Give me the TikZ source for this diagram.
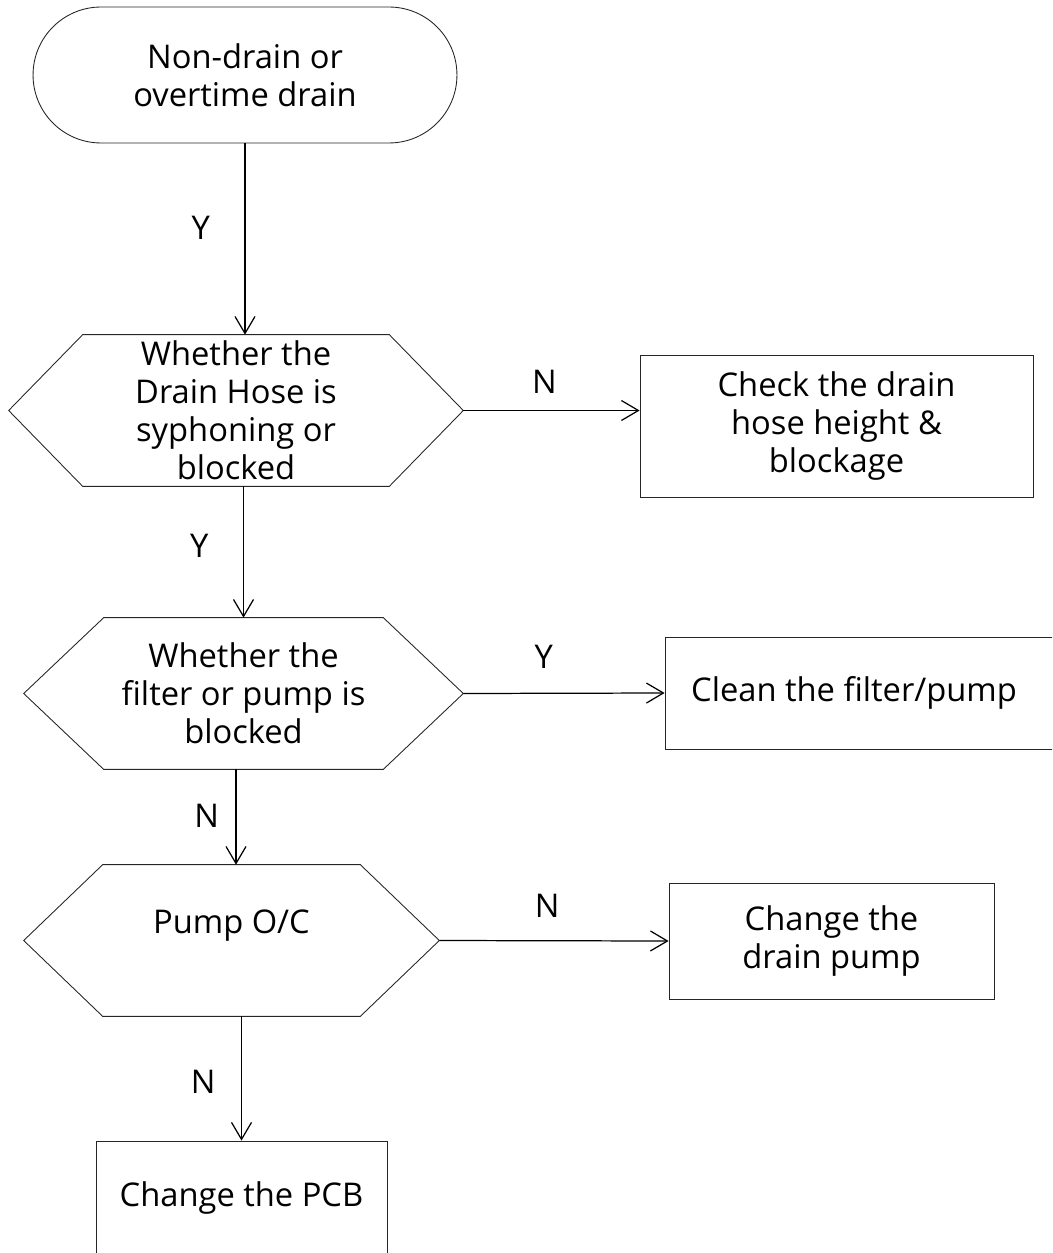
\documentclass[tikz,border=0pt]{standalone}
\usepackage{fontspec}
\setmainfont{Open Sans}
\usetikzlibrary{positioning}
\usetikzlibrary{calc}
\usetikzlibrary{arrows.meta}

\begin{document}
\begin{tikzpicture}[x=0.02cm, y=-0.02cm,
		font=\fontsize{18.6}{21.6}\selectfont,
		box/.style={draw=black!85, line width=0.5pt, align=center, inner sep=0pt},
		hexnode/.style={align=center, inner sep=0pt, minimum height=3.02cm},
		flow/.style={line width=0.7pt, -{Straight Barb[length=0.34cm, width=0.4cm]}},
		lbl/.style={inner sep=0pt}]
				\newcommand{\hexframe}[2]{\draw[black!85, line width=0.5pt] (#1.west) -- ([xshift=#2]#1.north west) -- ([xshift=-#2]#1.north east) -- (#1.east) -- ([xshift=-#2]#1.south east) -- ([xshift=#2]#1.south west) -- cycle;}
				\useasboundingbox (0, 0) rectangle (1052, 1253);
				\clip (0, 0) rectangle (1052, 1253);
				
				\node[box, rounded corners=1.36cm, minimum width=8.48cm, minimum height=2.72cm] (start) at (245, 75) {Non-drain or\\overtime drain};
				
				\node[hexnode, minimum width=9.08cm] (syphon) at (236, 410.5) {Whether the\\Drain Hose is\\syphoning or\\blocked};
				\node[hexnode, minimum width=8.78cm] (filter) at (243.5, 693.5) {Whether the\\filter or pump is\\blocked};
				\node[hexnode, minimum width=8.3cm] (pump) at (231.5, 940.5) {\raisebox{0.76cm}{Pump O/C}};
				\hexframe{syphon}{1.48cm}
				\hexframe{filter}{1.6cm}
				\hexframe{pump}{1.58cm}
				
				\node[box, minimum width=7.86cm, minimum height=2.84cm] (hose) at (836.5, 426) {Check the drain\\hose height \&\\blockage};
				\node[box, minimum width=8cm, minimum height=2.24cm] (clean) at (865, 693) {Clean the filter/pump\hspace*{0.44cm}};
				\node[box, minimum width=6.5cm, minimum height=2.32cm] (change) at (831.5, 941) {Change the\\drain pump};
				\node[box, minimum width=5.82cm, minimum height=2.28cm] (pcb) at (241.5, 1198) {Change the PCB};
				
				\draw[flow] (start.south) -- (start.south |- syphon.north) node[lbl, pos=0.44, left=0.69cm] {Y};
				\draw[flow] (filter.north |- syphon.south) -- (filter.north) node[lbl, pos=0.45, left=0.69cm] {Y};
				\draw[flow] ([xshift=-0.15cm]filter.south) -- ([xshift=-0.15cm]filter.south |- pump.north) node[lbl, pos=0.49, left=0.33cm] {N};
				\draw[flow] (pcb.north |- pump.south) -- (pcb.north) node[lbl, pos=0.53, left=0.51cm] {N};
				\draw[flow] (syphon.east) -- (syphon.east -| hose.west) node[lbl, pos=0.46, above=0.33cm] {N};
				\draw[flow] (filter.east) -- (clean.west) node[lbl, pos=0.4, above=0.49cm] {Y};
				\draw[flow] (pump.east) -- (change.west) node[lbl, pos=0.47, above=0.45cm] {N};
				
\end{tikzpicture}
\end{document}
